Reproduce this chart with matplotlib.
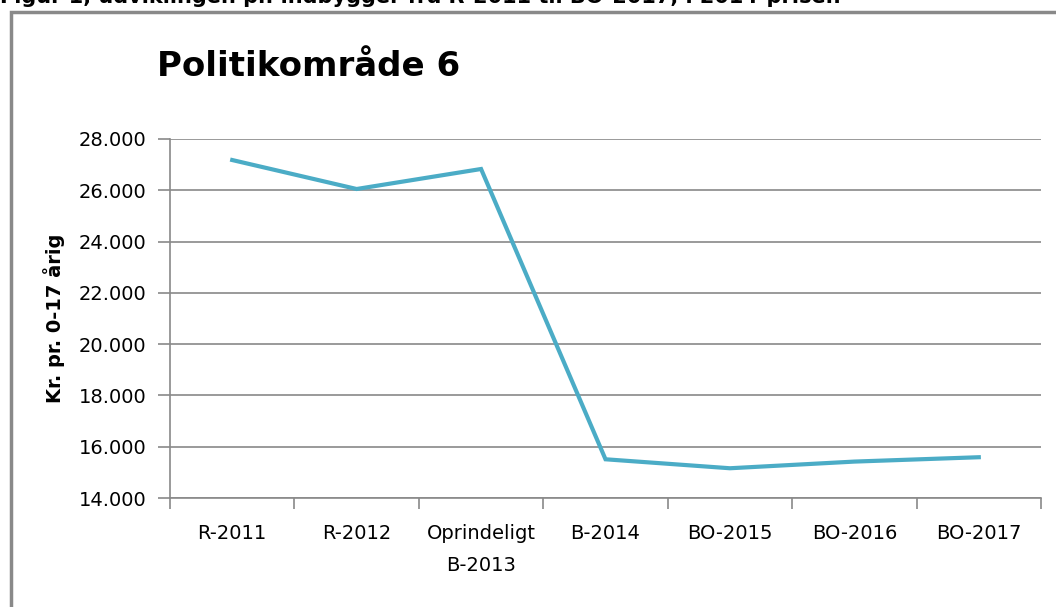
import matplotlib
matplotlib.use("Agg")
import matplotlib.pyplot as plt
from matplotlib.patches import Rectangle
from matplotlib.ticker import FuncFormatter, FixedLocator

categories = ["R-2011", "R-2012", "Oprindeligt\nB-2013", "B-2014", "BO-2015", "BO-2016", "BO-2017"]
values = [27180, 26050, 26830, 15510, 15160, 15420, 15590]
y_ticks = [14000, 16000, 18000, 20000, 22000, 24000, 26000, 28000]

plt.rcParams['font.family'] = ['DejaVu Sans']

fig = plt.figure(figsize=(10.56, 6.07), dpi=100)
fig.patch.set_facecolor("white")

# outer frame
fig.patches.append(Rectangle((11/1056, -0.05), 1.1, 1 - 12/607 + 0.05,
                             transform=fig.transFigure, fill=False,
                             edgecolor="#898989", linewidth=2.5, zorder=0))
# caption at top (partly cut off in the reference too)
fig.text(0/1056, 1 - 3/607, "Figur 1, udviklingen pr. indbygger fra R-2011 til BO-2017, i 2014-priser.",
         fontsize=15, fontweight="bold", ha="left", va="baseline", color="black")

ax = fig.add_axes([170/1056, 1 - 498/607, (1041 - 170)/1056, (498 - 139)/607])
x = list(range(len(categories)))
ax.plot(x, values, color="#4BACC6", linewidth=3.0, solid_joinstyle="miter", zorder=3)

ax.set_xlim(-0.5, len(categories) - 0.5)
ax.set_ylim(14000, 28000)
ax.set_yticks(y_ticks)
ax.yaxis.set_major_formatter(FuncFormatter(lambda v, p: f"{int(v):,}".replace(",", ".")))
ax.grid(axis="y", color="#898989", linewidth=1.2)
ax.set_axisbelow(True)

ax.xaxis.set_major_locator(FixedLocator([i - 0.5 for i in range(len(categories) + 1)]))
ax.xaxis.set_minor_locator(FixedLocator(x))
ax.set_xticklabels([])
ax.set_xticklabels(categories, minor=True, fontsize=14, linespacing=1.85)
ax.tick_params(axis="x", which="major", length=8, width=1.2, color="#898989", direction="out")
ax.tick_params(axis="x", which="minor", length=0, pad=19)
for lbl in ax.get_xticklabels(minor=True):
    lbl.set_verticalalignment("top")
ax.tick_params(axis="y", length=9, width=1.2, color="#898989", labelsize=14, pad=8)

for s in ["top", "right"]:
    ax.spines[s].set_visible(False)
for s in ["left", "bottom"]:
    ax.spines[s].set_color("#898989")
    ax.spines[s].set_linewidth(1.2)

ax.set_ylabel("Kr. pr. 0-17 årig", fontsize=14, fontweight="bold", labelpad=10)

fig.text(157/1056, 1 - 66/607, "Politikområde 6", fontsize=24.5, fontweight="bold",
         ha="left", va="center", color="black")

fig.savefig("out.png", dpi=100, facecolor="white")
